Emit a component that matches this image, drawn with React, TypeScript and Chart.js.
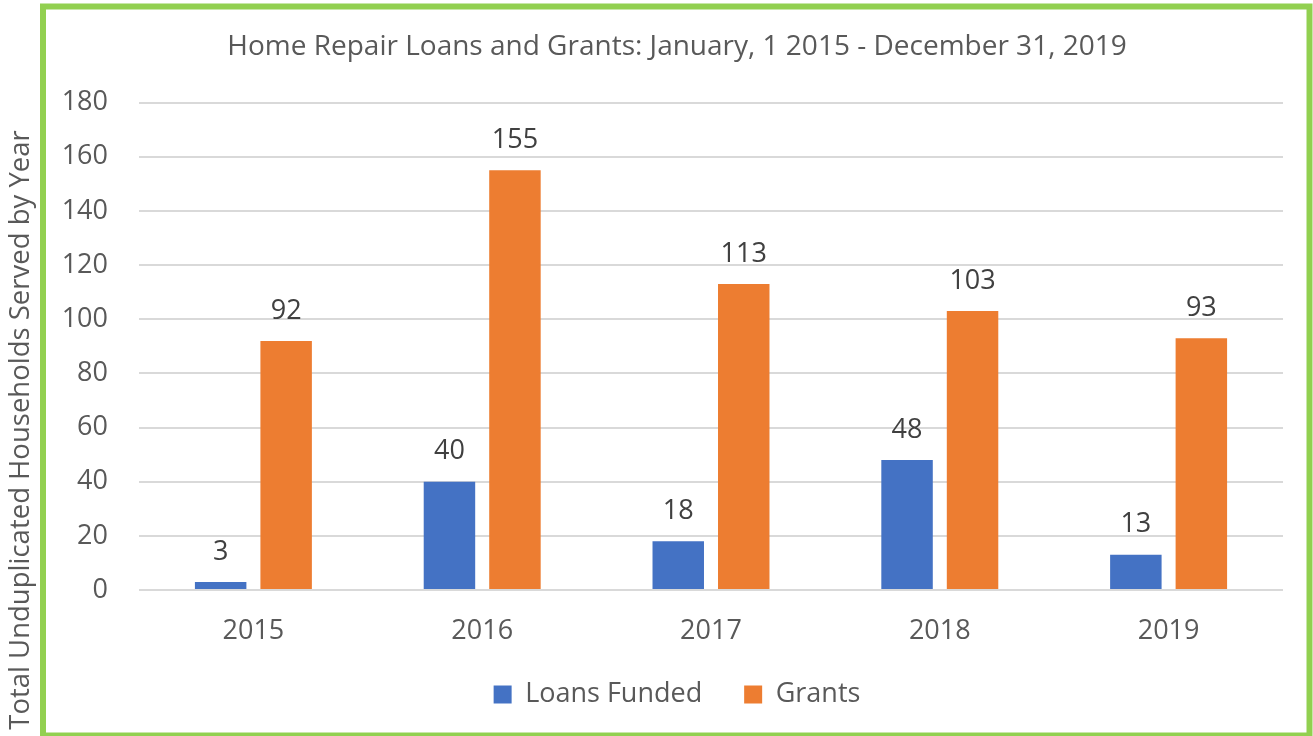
import React, { useEffect, useRef } from "react";
import { Chart, registerables } from "chart.js";

Chart.register(...registerables);

const years = ["2015", "2016", "2017", "2018", "2019"];
const loansFunded = [3, 40, 18, 48, 13];
const grants = [92, 155, 113, 103, 93];
const yMin = 0;
const yMax = 180;
const yStep = 20;
const seriesNames = ["Loans Funded", "Grants"];
const chartTitle = "Home Repair Loans and Grants: January, 1 2015 - December 31, 2019";
const yAxisTitle = "Total Unduplicated Households Served by Year";

const FONT = "'Open Sans', 'DejaVu Sans', sans-serif";
const TEXT = "#595959";
const LABEL = "#404040";
const BLUE = "#4472C4";
const ORANGE = "#ED7D31";
const GREEN = "#92D050";

const frameAndLabels = {
  id: "frameAndLabels",
  afterDatasetsDraw(chart: any) {
    const ctx = chart.ctx;
    ctx.save();
    ctx.font = `normal 27px ${FONT}`;
    ctx.fillStyle = LABEL;
    ctx.textAlign = "center";
    ctx.textBaseline = "middle";
    chart.data.datasets.forEach((ds: any, i: number) => {
      const meta = chart.getDatasetMeta(i);
      meta.data.forEach((bar: any, j: number) => {
        ctx.fillText(String(ds.data[j]), bar.x, bar.y - 30);
      });
    });
    ctx.restore();
  },
  afterDraw(chart: any) {
    const ctx = chart.ctx;
    ctx.save();
    ctx.font = `normal 27.5px ${FONT}`;
    ctx.fillStyle = TEXT;
    ctx.textAlign = "center";
    ctx.textBaseline = "middle";
    ctx.translate(21, 430);
    ctx.rotate(-Math.PI / 2);
    ctx.fillText(yAxisTitle, 0, 0);
    ctx.restore();
    ctx.save();
    ctx.strokeStyle = GREEN;
    ctx.lineWidth = 6;
    ctx.strokeRect(43, 6.5, 1266.5, 729);
    ctx.restore();
  },
};

export default function App() {
  const ref = useRef<HTMLCanvasElement | null>(null);
  useEffect(() => {
    document.body.style.margin = "0";
    document.body.style.overflow = "hidden";
    const canvas = ref.current;
    if (!canvas) return;
    const font = { family: FONT, size: 27, weight: "normal" as const };
    const m = document.createElement("canvas").getContext("2d") as CanvasRenderingContext2D;
    m.font = `normal 27px ${FONT}`;
    const widest = Math.max(
      ...[0, 20, 40, 60, 80, 100, 120, 140, 160, 180].map((v) => m.measureText(String(v)).width)
    );
    const chart = new Chart(canvas, {
      type: "bar",
      data: {
        labels: years,
        datasets: [
          {
            label: seriesNames[0],
            data: loansFunded,
            backgroundColor: BLUE,
            borderWidth: 0,
            categoryPercentage: 0.5725,
            barPercentage: 0.786,
          },
          {
            label: seriesNames[1],
            data: grants,
            backgroundColor: ORANGE,
            borderWidth: 0,
            categoryPercentage: 0.5725,
            barPercentage: 0.786,
          },
        ],
      },
      options: {
        responsive: false,
        animation: false,
        layout: { padding: { left: 71, right: 30, top: 0, bottom: 18 } },
        plugins: {
          title: {
            display: true,
            text: chartTitle,
            color: TEXT,
            font: { family: FONT, size: 28, weight: "normal" },
            padding: { top: 30, bottom: 39 },
          },
          legend: {
            position: "bottom",
            labels: {
              boxWidth: 18,
              boxHeight: 18,
              padding: 42,
              color: TEXT,
              font,
            },
          },
          tooltip: { enabled: false },
        },
        scales: {
          x: {
            grid: { display: false },
            border: { display: false },
            ticks: { color: TEXT, font, padding: -57.2, mirror: true },
            afterFit: (s: any) => {
              s.height = 49;
            },
          },
          y: {
            min: yMin,
            max: yMax,
            ticks: {
              stepSize: yStep,
              color: TEXT,
              font,
              mirror: true,
              crossAlign: "far",
              padding: -31 - widest,
            },
            grid: { color: "#D9D9D9", lineWidth: 2, drawTicks: false },
            border: { display: false },
            afterFit: (s: any) => {
              s.width = 68;
            },
          },
        },
      },
      plugins: [frameAndLabels],
    });
    return () => chart.destroy();
  }, []);
  return (
    <div style={{ width: 1313, height: 736 }}>
      <canvas ref={ref} width={1313} height={736} style={{ display: "block" }} />
    </div>
  );
}
